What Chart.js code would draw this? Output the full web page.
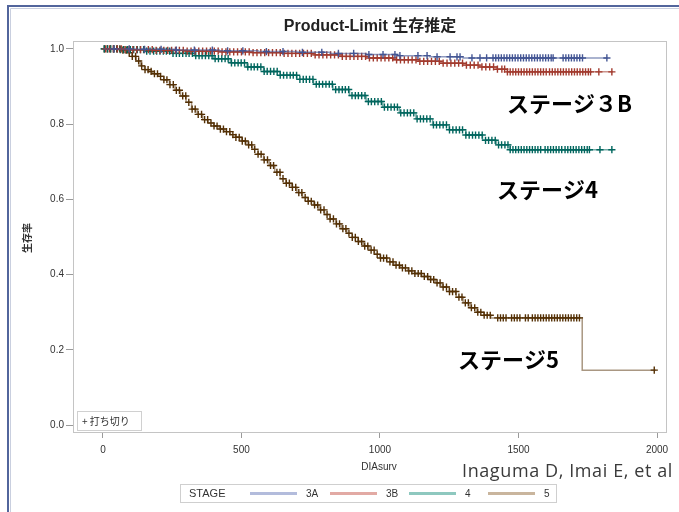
<!DOCTYPE html>
<html><head><meta charset="utf-8">
<script src="https://cdn.jsdelivr.net/npm/chart.js@4.4.1/dist/chart.umd.min.js"></script>
<style>html,body{margin:0;padding:0;background:#fff;overflow:hidden}canvas{display:block}</style>
</head><body>
<canvas id="c" width="679" height="512"></canvas>
<script>
// ---- data ----
const xTicks = [0, 500, 1000, 1500, 2000];
const yTicks = [0.0, 0.2, 0.4, 0.6, 0.8, 1.0];
const stageNames = ['3A', '3B', '4', '5'];

// Kaplan-Meier step points (days, survival)
const s3aDays = [0, 120, 260, 420, 560, 700, 820, 950, 1060, 1180, 1300, 1820];
const s3aSurv = [1.0, 0.999, 0.997, 0.995, 0.993, 0.991, 0.988, 0.985, 0.982, 0.979, 0.976, 0.976];

const s3bDays = [0, 80, 180, 300, 420, 540, 650, 760, 860, 960, 1050, 1140, 1220, 1300, 1360, 1420, 1460, 1840];
const s3bSurv = [1.0, 0.998, 0.996, 0.994, 0.992, 0.990, 0.988, 0.984, 0.980, 0.976, 0.971, 0.967, 0.962, 0.957, 0.952, 0.946, 0.939, 0.939];

const s4Days = [0, 60, 150, 250, 330, 400, 460, 520, 580, 640, 700, 760, 830, 890, 950, 1010, 1070, 1130, 1190, 1250, 1310, 1370, 1420, 1470, 1840];
const s4Surv = [1.0, 0.998, 0.994, 0.988, 0.982, 0.974, 0.963, 0.952, 0.940, 0.930, 0.919, 0.906, 0.892, 0.876, 0.860, 0.845, 0.830, 0.814, 0.798, 0.785, 0.771, 0.757, 0.745, 0.732, 0.732];

const s5Days = [0, 70, 90, 105, 120, 135, 150, 165, 180,
  200, 220, 240, 260, 280, 300, 320, 340, 360, 380, 400, 420, 440, 460, 480, 500, 520, 540, 560, 580, 600,
  620, 640, 660, 680, 700, 720, 740, 760, 780, 800, 820, 840, 860, 880, 900, 920, 940, 960, 980, 1000,
  1025, 1050, 1075, 1100, 1125, 1150, 1175, 1200, 1225, 1250, 1275, 1300, 1325, 1350, 1375, 1400, 1730, 1995];
const s5Surv = [1.0, 0.997, 0.990, 0.980, 0.968, 0.955, 0.945, 0.940, 0.934,
  0.927, 0.918, 0.905, 0.890, 0.875, 0.858, 0.840, 0.826, 0.812, 0.803, 0.795, 0.787, 0.780, 0.772, 0.765, 0.755, 0.745, 0.733, 0.720, 0.705, 0.690,
  0.672, 0.655, 0.643, 0.632, 0.618, 0.605, 0.595, 0.585, 0.572, 0.560, 0.548, 0.535, 0.522, 0.510, 0.499, 0.488, 0.476, 0.465, 0.454, 0.444,
  0.434, 0.425, 0.418, 0.410, 0.403, 0.395, 0.387, 0.378, 0.367, 0.355, 0.340, 0.325, 0.312, 0.300, 0.292, 0.285, 0.146, 0.146];

// censoring times (days)
const s3aCens = [40, 95, 150, 210, 265, 330, 395, 450, 505, 590, 650, 720, 790, 850, 905, 960, 1011, 1054, 1072, 1137, 1170, 1206, 1253, 1278, 1289, 1332, 1361, 1385,
  1408, 1418, 1428, 1438, 1448, 1458, 1468, 1478, 1488, 1498, 1508, 1518, 1528, 1538, 1548, 1558, 1568, 1578, 1588, 1598, 1608, 1618, 1625,
  1661, 1671, 1681, 1691, 1701, 1711, 1721, 1731, 1819];
const s3bCens = [10, 24, 38, 52, 66, 80, 94, 108, 122, 136, 150, 164, 178, 192, 206, 220, 234, 248, 262, 276, 290, 304, 318, 332, 346, 360, 374, 388, 402, 416, 430, 444, 458, 472, 486, 500,
  514, 528, 542, 556, 570, 584, 598, 612, 626, 640, 654, 668, 682, 696, 710, 724, 738, 752, 766, 780, 794, 808, 822, 836, 850, 864, 878, 892, 906, 920, 934, 948, 962, 976, 990,
  1004, 1018, 1032, 1046, 1060, 1074, 1088, 1102, 1116, 1130, 1144, 1158, 1172, 1186, 1200, 1214, 1228, 1242, 1256, 1270, 1284, 1298, 1312, 1326, 1340, 1354, 1368, 1382, 1396, 1410, 1424,
  1440, 1450, 1460, 1470, 1480, 1490, 1500, 1510, 1520, 1530, 1540, 1550, 1560, 1570, 1580, 1590, 1600, 1612, 1622, 1632, 1642, 1652, 1662, 1672, 1682, 1692, 1702, 1712, 1722, 1732, 1742, 1752, 1760, 1790, 1837];
const s4Cens = [5, 17, 28, 40, 52, 63, 75, 88, 99, 111, 124, 135, 147, 158, 170, 183, 194, 206, 218, 229, 241, 253, 265, 276, 288, 300, 311, 323, 335, 347, 358, 370, 382, 394, 405, 417, 429, 441, 452, 464, 476, 488, 499,
  511, 523, 535, 546, 558, 570, 582, 593, 605, 617, 629, 640, 652, 664, 676, 687, 699, 711, 723, 734, 746, 758, 770, 781, 793, 805, 817, 828, 840, 852, 864, 875, 887, 899, 911, 922, 934, 946, 958, 969, 981, 993,
  1005, 1016, 1028, 1040, 1052, 1063, 1075, 1087, 1099, 1110, 1122, 1134, 1146, 1157, 1169, 1181, 1193, 1204, 1216, 1228, 1240, 1251, 1263, 1275, 1287, 1298, 1310, 1322, 1334, 1345, 1357, 1369, 1381, 1392, 1404, 1416, 1428, 1439, 1451, 1462,
  1470, 1480, 1490, 1500, 1510, 1520, 1530, 1540, 1550, 1560, 1570, 1580, 1596, 1606, 1616, 1626, 1636, 1646, 1656, 1668, 1678, 1688, 1698, 1708, 1718, 1728, 1738, 1748, 1756, 1794, 1837];
const s5Cens = [5, 16, 27, 38, 50, 61, 72, 84, 95, 106, 118, 129, 140, 152, 163, 174, 186, 197, 208, 220, 231, 242, 254, 265, 276, 288, 299, 310, 322, 333, 344, 356, 367, 378, 390, 401, 412, 424, 435, 446, 458, 469, 480, 492,
  503, 514, 526, 537, 548, 560, 571, 582, 594, 605, 616, 628, 639, 650, 662, 673, 684, 696, 707, 718, 730, 741, 752, 764, 775, 786, 798, 809, 820, 832, 843, 854, 866, 877, 888, 900, 911, 922, 934, 945, 956, 968, 979, 990,
  1002, 1013, 1024, 1036, 1047, 1058, 1070, 1081, 1092, 1104, 1115, 1126, 1138, 1149, 1160, 1172, 1183, 1194, 1206, 1217, 1228, 1240, 1251, 1262, 1274, 1285, 1296, 1308, 1319, 1330, 1342, 1353, 1364, 1376, 1387, 1398,
  1425, 1435, 1445, 1455, 1475, 1485, 1495, 1505, 1525, 1535, 1550, 1560, 1570, 1580, 1590, 1600, 1610, 1620, 1630, 1640, 1650, 1660, 1670, 1680, 1690, 1700, 1710, 1720, 1990];

// ---- styling ----
const darkCol  = ['#445694', '#A23A2E', '#01665E', '#543005'];
const lineCol  = ['rgba(68,86,148,0.6)', 'rgba(162,58,46,0.55)', 'rgba(1,102,94,0.55)', 'rgba(84,48,5,0.5)'];
const legCol   = ['#b3bcdc', '#e2aaa4', '#8ec8bf', '#c9b59d'];
const SANS = '"Liberation Sans", Arial, sans-serif';
const CJK = '"Noto Sans CJK JP", "Noto Sans", sans-serif';

function survAt(days, surv, t) {
  let v = surv[0];
  for (let i = 0; i < days.length; i++) { if (days[i] <= t) v = surv[i]; else break; }
  return v;
}
const series = [
  [s3aDays, s3aSurv, s3aCens],
  [s3bDays, s3bSurv, s3bCens],
  [s4Days, s4Surv, s4Cens],
  [s5Days, s5Surv, s5Cens]
];
const datasets = [];
series.forEach(([d, s, c], k) => {
  datasets.push({
    type: 'line', label: stageNames[k],
    data: d.map((x, i) => ({x: x, y: s[i]})),
    stepped: true, borderColor: lineCol[k], borderWidth: 1.5,
    pointRadius: 0, fill: false, order: k + 1
  });
  datasets.push({
    type: 'scatter', label: stageNames[k] + ' censored',
    data: c.map(t => ({x: t, y: survAt(d, s, t)})),
    pointStyle: 'cross', pointRadius: 3.6, borderWidth: 1.4,
    borderColor: darkCol[k], backgroundColor: darkCol[k], order: k + 1
  });
});

const deco = {
  id: 'deco',
  beforeDraw(chart) {
    const ctx = chart.ctx;
    ctx.save();
    ctx.fillStyle = '#fff';
    ctx.fillRect(0, 0, chart.width, chart.height);
    // outer frame
    ctx.strokeStyle = '#c9cfdf'; ctx.lineWidth = 1;
    ctx.beginPath(); ctx.moveTo(10.5, 512); ctx.lineTo(10.5, 8.5); ctx.lineTo(679, 8.5); ctx.stroke();
    ctx.strokeStyle = '#52659c'; ctx.lineWidth = 2;
    ctx.beginPath(); ctx.moveTo(8, 512); ctx.lineTo(8, 6); ctx.lineTo(679, 6); ctx.stroke();
    // plot box
    const a = chart.chartArea;
    ctx.strokeStyle = '#c4c4c4'; ctx.lineWidth = 1;
    ctx.strokeRect(Math.round(a.left) + 0.5, Math.round(a.top) + 0.5, Math.round(a.right - a.left) - 1, Math.round(a.bottom - a.top) - 1);
    ctx.restore();
  },
  afterDraw(chart) {
    const ctx = chart.ctx;
    const a = chart.chartArea;
    ctx.save();
    // title
    ctx.fillStyle = '#222'; ctx.textAlign = 'center'; ctx.textBaseline = 'middle';
    ctx.font = 'bold 16px "Liberation Sans", "Noto Sans CJK JP", sans-serif';
    ctx.fillText('Product-Limit 生存推定', (a.left + a.right) / 2, 27);
    // y title
    ctx.save();
    ctx.translate(27, 238); ctx.rotate(-Math.PI / 2);
    ctx.font = 'bold 10px ' + CJK; ctx.fillStyle = '#333';
    ctx.fillText('生存率', 0, 0);
    ctx.restore();
    // x title
    ctx.font = '10px ' + SANS; ctx.fillStyle = '#333';
    ctx.fillText('DIAsurv', 379, 467);
    // censor legend box
    ctx.fillStyle = '#fff'; ctx.strokeStyle = '#d0d0d0';
    ctx.fillRect(77.5, 411.5, 64, 19); ctx.strokeRect(77.5, 411.5, 64, 19);
    ctx.fillStyle = '#333'; ctx.textAlign = 'left';
    ctx.font = '10px ' + CJK;
    ctx.fillText('+ 打ち切り', 82, 421);
    // stage annotations
    ctx.fillStyle = '#000'; ctx.font = 'bold 22px ' + CJK;
    ctx.fillText('ステージ３B', 507, 104);
    ctx.fillText('ステージ4', 497, 190);
    ctx.fillText('ステージ5', 458, 360);
    // citation
    ctx.fillStyle = '#3a3a3a'; ctx.font = '18px "Open Sans", sans-serif';
    try { ctx.letterSpacing = '0.6px'; } catch (e) {}
    ctx.fillText('Inaguma D, Imai E, et al', 462, 472);
    try { ctx.letterSpacing = '0px'; } catch (e) {}
    // bottom legend
    ctx.strokeStyle = '#cfcfcf'; ctx.lineWidth = 1;
    ctx.strokeRect(180.5, 484.5, 376, 18);
    ctx.fillStyle = '#333'; ctx.font = '11px ' + SANS;
    ctx.fillText('STAGE', 189, 494);
    ctx.font = '10px ' + SANS;
    const lx = [250, 330, 409, 488];
    stageNames.forEach((n, k) => {
      ctx.strokeStyle = legCol[k]; ctx.lineWidth = 3;
      ctx.beginPath(); ctx.moveTo(lx[k], 493.5); ctx.lineTo(lx[k] + 47, 493.5); ctx.stroke();
      ctx.fillStyle = '#333';
      ctx.fillText(n, lx[k] + 56, 494);
    });
    ctx.restore();
  }
};

new Chart(document.getElementById('c'), {
  type: 'scatter',
  data: { datasets: datasets },
  options: {
    responsive: false, animation: false, devicePixelRatio: 1,
    layout: { padding: { top: 41, right: 12, bottom: 59, left: 0 } },
    plugins: { legend: { display: false }, tooltip: { enabled: false }, title: { display: false } },
    scales: {
      x: {
        type: 'linear', min: -108, max: 2036,
        afterBuildTicks: s => { s.ticks = xTicks.map(v => ({value: v})); },
        afterFit: s => { s.height = 20; },
        grid: { drawOnChartArea: false, drawTicks: true, tickLength: 5, color: '#9a9a9a' },
        border: { display: false },
        ticks: { font: { size: 10, family: SANS }, color: '#333', padding: 6, maxRotation: 0, autoSkip: false, callback: v => String(v) }
      },
      y: {
        type: 'linear', min: -0.021, max: 1.021,
        afterBuildTicks: s => { s.ticks = yTicks.map(v => ({value: v})); },
        afterFit: s => { s.width = 73; },
        grid: { drawOnChartArea: false, drawTicks: true, tickLength: 7, color: '#9a9a9a' },
        border: { display: false },
        ticks: { font: { size: 10, family: SANS }, color: '#333', padding: 2, autoSkip: false, callback: v => Number(v).toFixed(1) }
      }
    }
  },
  plugins: [deco]
});
</script>
</body></html>
